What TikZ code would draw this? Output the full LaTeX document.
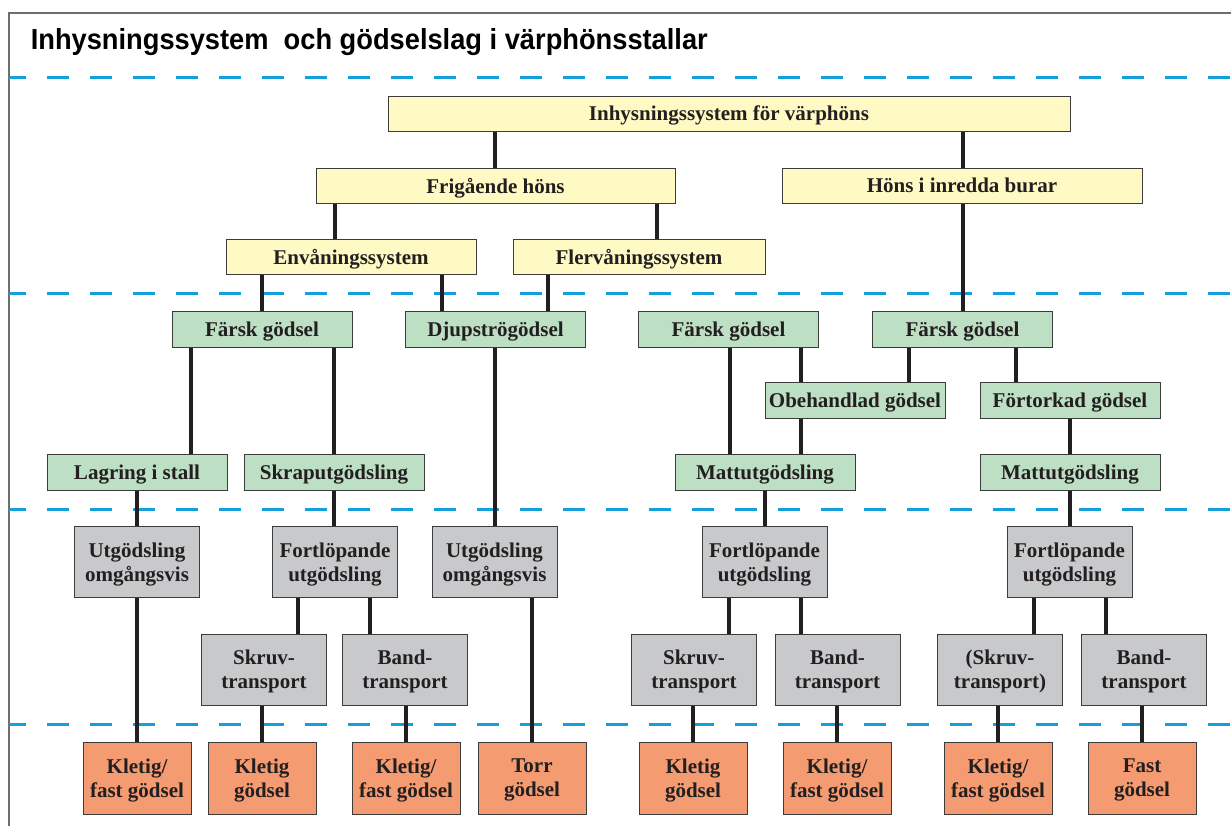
\documentclass[tikz,border=0pt]{standalone}
\usepackage{fontspec}
\usepackage{graphicx}
\setmainfont{Liberation Serif}
\newfontfamily\titlefont{Liberation Sans}
\definecolor{boxyellow}{RGB}{255,249,196}
\definecolor{boxgreen}{RGB}{189,223,196}
\definecolor{boxgrey}{RGB}{200,201,203}
\definecolor{boxorange}{RGB}{245,155,114}
\definecolor{boxline}{RGB}{60,60,60}
\definecolor{linkblack}{RGB}{35,31,32}
\definecolor{levelblue}{RGB}{20,160,220}
\definecolor{framegrey}{RGB}{110,110,110}

\begin{document}
\begin{tikzpicture}[x=0.5pt,y=-0.5pt,-,thick,
    base node/.style={draw=boxline,line width=0.5pt,inner sep=0pt,align=center,text depth=0pt,text=linkblack,font=\fontsize{10.5pt}{12pt}\selectfont\bfseries},
    yellow node/.style={base node,fill=boxyellow,minimum height=17.5pt},
    green node/.style={base node,fill=boxgreen,minimum width=90pt,minimum height=18pt},
    grey node/.style={base node,fill=boxgrey,minimum width=62.5pt,minimum height=35.5pt},
    orange node/.style={base node,fill=boxorange,minimum width=54pt,minimum height=36pt},
    link/.style={draw=linkblack,line width=2pt},
    level line/.style={draw=levelblue,line width=1.5pt,dash pattern=on 11pt off 10.5pt,dash phase=2.5pt}]
    \useasboundingbox (0,0) rectangle (1231,825);
    \clip (0,0) rectangle (1231,825);

    % frame and title
    \draw[framegrey,line width=0.75pt] (9,900) -- (9,13) -- (1300,13);
    \node[anchor=base west,inner sep=0pt] (title) at (30,49)
        {\resizebox{338.5pt}{\height}{\titlefont\bfseries\fontsize{14.5pt}{16pt}\selectfont Inhysningssystem\ \ och gödselslag i värphönsstallar}};

    % level lines
    \draw[level line] (9,77) -- (1231,77);
    \draw[level line] (9,293) -- (1231,293);
    \draw[level line] (9,509) -- (1231,509);
    \draw[level line] (9,724) -- (1231,724);

    % housing systems
    \node[yellow node,minimum width=341pt] (1) at (729,113.5) {Inhysningssystem för värphöns};
    \node[yellow node,minimum width=179.5pt] (2) at (495.5,185.5) {Frigående höns};
    \node[yellow node,minimum width=180pt] (3) at (962,185.5) {Höns i inredda burar};
    \node[yellow node,minimum width=125pt] (4) at (351,257) {Envåningssystem};
    \node[yellow node,minimum width=126pt] (5) at (639,257) {Flervåningssystem};

    % manure
    \node[green node] (6) at (262,329) {Färsk gödsel};
    \node[green node] (7) at (495.5,329) {Djupströgödsel};
    \node[green node] (8) at (728.5,329) {Färsk gödsel};
    \node[green node] (9) at (962.5,329) {Färsk gödsel};
    \node[green node] (10) at (855,400.5) {Obehandlad gödsel};
    \node[green node] (11) at (1070,400.5) {Förtorkad gödsel};
    \node[green node] (12) at (137,472) {Lagring i stall};
    \node[green node] (13) at (334,472) {Skraputgödsling};
    \node[green node] (14) at (765,472) {Mattutgödsling};
    \node[green node] (15) at (1070,472) {Mattutgödsling};

    % removal
    \node[grey node] (16) at (137,562) {Utgödsling\\omgångsvis};
    \node[grey node] (17) at (335,562) {Fortlöpande\\utgödsling};
    \node[grey node] (18) at (494.5,562) {Utgödsling\\omgångsvis};
    \node[grey node] (19) at (764.5,562) {Fortlöpande\\utgödsling};
    \node[grey node] (20) at (1069.5,562) {Fortlöpande\\utgödsling};
    \node[grey node] (21) at (264,669.5) {Skruv-\\transport};
    \node[grey node] (22) at (405,669.5) {Band-\\transport};
    \node[grey node] (23) at (694,669.5) {Skruv-\\transport};
    \node[grey node] (24) at (837.5,669.5) {Band-\\transport};
    \node[grey node] (25) at (1000,669.5) {(Skruv-\\transport)};
    \node[grey node] (26) at (1144,669.5) {Band-\\transport};

    % manure type
    \node[orange node] (27) at (137,778) {Kletig/\\fast gödsel};
    \node[orange node] (28) at (262,778) {Kletig\\gödsel};
    \node[orange node] (29) at (406,778) {Kletig/\\fast gödsel};
    \node[orange node] (30) at (532,778) {Torr\\gödsel};
    \node[orange node] (31) at (693,778) {Kletig\\gödsel};
    \node[orange node] (32) at (837,778) {Kletig/\\fast gödsel};
    \node[orange node] (33) at (998,778) {Kletig/\\fast gödsel};
    \node[orange node] (34) at (1142,778) {Fast\\gödsel};

    \path[link]
        (495,0 |- 1.south) edge (495,0 |- 2.north)
        (963,0 |- 1.south) edge (963,0 |- 3.north)
        (335,0 |- 2.south) edge (335,0 |- 4.north)
        (657,0 |- 2.south) edge (657,0 |- 5.north)
        (262,0 |- 4.south) edge (262,0 |- 6.north)
        (442,0 |- 4.south) edge (442,0 |- 7.north)
        (548,0 |- 5.south) edge (548,0 |- 8.north)
        (963,0 |- 3.south) edge (963,0 |- 9.north)
        (191,0 |- 6.south) edge (191,0 |- 12.north)
        (334,0 |- 6.south) edge (334,0 |- 13.north)
        (495,0 |- 7.south) edge (495,0 |- 18.north)
        (730,0 |- 8.south) edge (730,0 |- 14.north)
        (801,0 |- 8.south) edge (801,0 |- 10.north)
        (909,0 |- 9.south) edge (909,0 |- 10.north)
        (1016,0 |- 9.south) edge (1016,0 |- 11.north)
        (801,0 |- 10.south) edge (801,0 |- 14.north)
        (1070,0 |- 11.south) edge (1070,0 |- 15.north)
        (137,0 |- 12.south) edge (137,0 |- 16.north)
        (334,0 |- 13.south) edge (334,0 |- 17.north)
        (765,0 |- 14.south) edge (765,0 |- 19.north)
        (1070,0 |- 15.south) edge (1070,0 |- 20.north)
        (298,0 |- 17.south) edge (298,0 |- 21.north)
        (370,0 |- 17.south) edge (370,0 |- 22.north)
        (729,0 |- 19.south) edge (729,0 |- 23.north)
        (801,0 |- 19.south) edge (801,0 |- 24.north)
        (1034,0 |- 20.south) edge (1034,0 |- 25.north)
        (1106,0 |- 20.south) edge (1106,0 |- 26.north)
        (137,0 |- 16.south) edge (137,0 |- 27.north)
        (262,0 |- 21.south) edge (262,0 |- 28.north)
        (406,0 |- 22.south) edge (406,0 |- 29.north)
        (532,0 |- 18.south) edge (532,0 |- 30.north)
        (693,0 |- 23.south) edge (693,0 |- 31.north)
        (837,0 |- 24.south) edge (837,0 |- 32.north)
        (998,0 |- 25.south) edge (998,0 |- 33.north)
        (1142,0 |- 26.south) edge (1142,0 |- 34.north)
    ;
\end{tikzpicture}
\end{document}
